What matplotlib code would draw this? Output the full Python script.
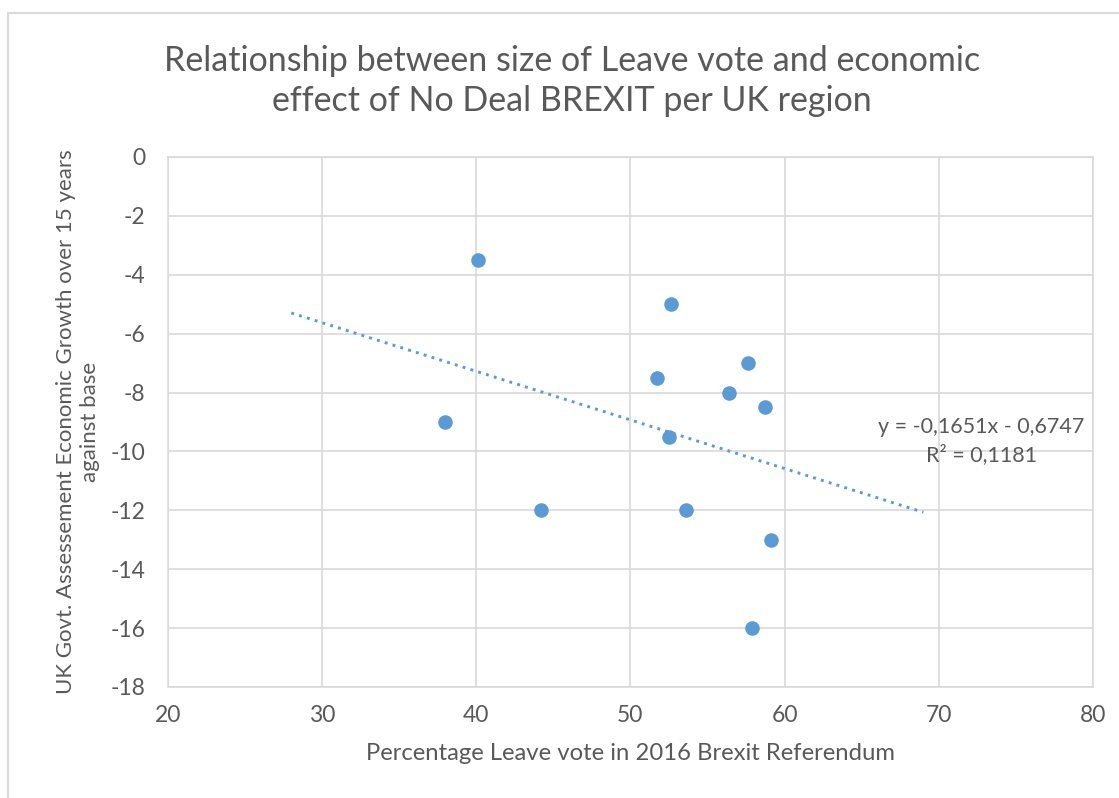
import matplotlib
matplotlib.use("Agg")
import matplotlib.pyplot as plt
from matplotlib.lines import Line2D
import numpy as np

BLUE = "#5B9BD5"
TXT = "#595959"
GRID = "#D9D9D9"

plt.rcParams.update({
    "font.family": ["Lato", "DejaVu Sans"],
    "axes.unicode_minus": False,
})

# regional data: % Leave vote vs. growth effect (%) over 15 years
leave_pct = [40.1, 52.6, 57.6, 51.7, 56.4, 58.7, 38.0, 52.5, 44.2, 53.6, 59.1, 57.9]
growth = [-3.5, -5.0, -7.0, -7.5, -8.0, -8.5, -9.0, -9.5, -12.0, -12.0, -13.0, -16.0]

# linear trendline as reported
slope, intercept = -0.1651, -0.6747
r_squared = 0.1181
trend_x = [28, 69]

fig = plt.figure(figsize=(11.19, 7.98), dpi=100)
ax = fig.add_axes([0.1501, 0.1391, 0.8266, 0.6642])

ax.scatter(leave_pct, growth, s=110, color=BLUE, zorder=3, linewidths=0)

tx = np.array(trend_x, dtype=float)
ax.plot(tx, slope * tx + intercept, color=BLUE, lw=2.1,
        linestyle=(0, (1, 1.8)), zorder=2)

ax.set_xlim(20, 80)
ax.set_ylim(-18, 0)
ax.set_xticks(np.arange(20, 81, 10))
ax.set_yticks(np.arange(-18, 1, 2))
ax.grid(True, color=GRID, lw=1.2, zorder=0)
ax.set_axisbelow(True)
for s in ax.spines.values():
    s.set_color(GRID)
    s.set_linewidth(1.2)
ax.tick_params(length=0, labelsize=16.5, colors=TXT)
ax.tick_params(axis="x", pad=13)
ax.tick_params(axis="y", pad=16)

ax.set_xlabel("Percentage Leave vote in 2016 Brexit Referendum",
              fontsize=17.2, color=TXT, labelpad=12)
ax.set_ylabel("UK Govt. Assessement Economic Growth over 15 years\nagainst base",
              fontsize=16, color=TXT, labelpad=8, linespacing=1.25)

eq = f"y = {slope:.4f}x - {abs(intercept):.4f}".replace(".", ",")
r2 = f"R² = {r_squared:.4f}".replace(".", ",")
ax.text(0.8767, 0.4475, eq + "\n" + r2, transform=fig.transFigure,
        ha="center", va="center", fontsize=15.5, color=TXT, linespacing=1.45)

fig.text(0.5115, 0.8985, "Relationship between size of Leave vote and economic\n"
         "effect of No Deal BREXIT per UK region",
         ha="center", va="center", fontsize=24.5, color=TXT, linespacing=1.32)

# chart-area border (top and left edges visible)
fig.add_artist(Line2D([8 / 1119, 8 / 1119], [0, 1 - 13 / 798],
                      transform=fig.transFigure, color=GRID, lw=1.5))
fig.add_artist(Line2D([8 / 1119, 1], [1 - 13 / 798, 1 - 13 / 798],
                      transform=fig.transFigure, color=GRID, lw=1.5))

fig.savefig("out.png", dpi=100)
